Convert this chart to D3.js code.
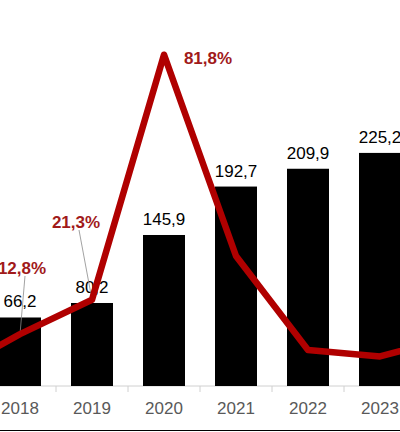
<!DOCTYPE html>
<html><head><meta charset="utf-8">
<script src="https://cdn.jsdelivr.net/npm/d3@7"></script>
<style>body{margin:0;background:#fff}svg{display:block}</style>
</head><body>
<svg id="chart" width="400" height="432"></svg>
<script>
const years = ["2017","2018","2019","2020","2021","2022","2023","2024"];
const values = [58.7, 66.2, 80.2, 145.9, 192.7, 209.9, 225.2, 248];
const growth = [3.0, 12.8, 21.3, 81.8, 32.1, 8.9, 7.3, 12.0];
const valueLabels = ["", "66,2", "80,2", "145,9", "192,7", "209,9", "225,2", ""];
const growthLabels = ["", "12,8%", "21,3%", "81,8%", "", "", "", ""];

const svg = d3.select("#chart");
const base = 386;

const x = d3.scaleBand().domain(years).range([-88, -88 + 8 * 72])
  .paddingInner(30 / 72).paddingOuter(15 / 72);
const y = d3.scaleLinear().domain([0, 100]).range([base, base - 103.5]);
const yg = d3.scaleLinear().domain([0, 100]).range([base, base - 405]);
const cx = d => x(d) + x.bandwidth() / 2;

// axis line and ticks between bands
svg.append("line").attr("x1", 0).attr("x2", 400).attr("y1", base).attr("y2", base)
  .attr("stroke", "#d0d0d0");
years.forEach(d => {
  const tx = x(d) - 15;
  svg.append("line").attr("x1", tx).attr("x2", tx).attr("y1", base).attr("y2", base + 6)
    .attr("stroke", "#d0d0d0");
});

svg.selectAll("rect.bar").data(years).join("rect")
  .attr("x", d => x(d)).attr("width", x.bandwidth())
  .attr("y", (d, i) => y(values[i])).attr("height", (d, i) => base - y(values[i]))
  .attr("fill", "#000");

svg.selectAll("text.val").data(years).join("text")
  .attr("x", cx).attr("y", (d, i) => y(values[i]) - 10)
  .attr("text-anchor", "middle").attr("font-family", "Arial, Liberation Sans")
  .attr("font-size", 17).attr("fill", "#000")
  .text((d, i) => valueLabels[i]);

svg.selectAll("text.yr").data(years).join("text")
  .attr("x", cx).attr("y", 414)
  .attr("text-anchor", "middle").attr("font-family", "Arial, Liberation Sans")
  .attr("font-size", 17).attr("fill", "#595959")
  .text(d => d);

// leader lines
const leaders = [[1, 25, 276], [2, 79, 230]];
leaders.forEach(([i, lx, ly]) => {
  svg.append("line").attr("x1", lx).attr("y1", ly)
    .attr("x2", cx(years[i])).attr("y2", yg(growth[i]))
    .attr("stroke", "#8a8a8a").attr("stroke-width", 0.8);
});

svg.append("path").datum(years)
  .attr("d", d3.line().x(cx).y((d, i) => yg(growth[i])))
  .attr("fill", "none").attr("stroke", "#b00000").attr("stroke-width", 6.5)
  .attr("stroke-linejoin", "round");

const gpos = [null, [22, 274], [76, 228], [208, 64]];
gpos.forEach((p, i) => {
  if (!p) return;
  svg.append("text").attr("x", p[0]).attr("y", p[1]).attr("text-anchor", "middle")
    .attr("font-family", "Arial, Liberation Sans").attr("font-weight", "bold")
    .attr("font-size", 17).attr("fill", "#a11a1a").text(growthLabels[i]);
});

svg.append("line").attr("x1", 0).attr("x2", 400).attr("y1", 430.5).attr("y2", 430.5)
  .attr("stroke", "#000").attr("stroke-width", 1.2);
</script>
</body></html>
